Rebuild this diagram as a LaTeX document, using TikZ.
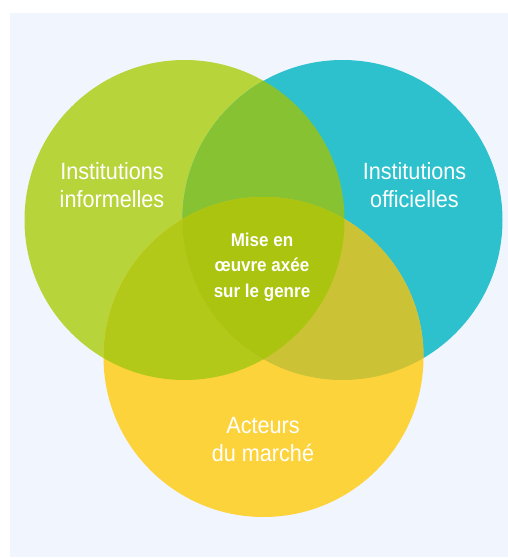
\documentclass[tikz,border=0pt]{standalone}
\usepackage{fontspec}
\setmainfont{Liberation Sans}
\definecolor{bgc}{HTML}{F1F5FD}
\definecolor{cgreen}{HTML}{B8D43B}
\definecolor{cteal}{HTML}{2CC1CD}
\definecolor{cyellow}{HTML}{FDD33C}
\definecolor{cgt}{HTML}{86C232}
\definecolor{cgy}{HTML}{B2C91A}
\definecolor{cty}{HTML}{CBC236}
\definecolor{call}{HTML}{ABC40F}
\tikzset{
  lbl/.style={text=white, align=center, font=\fontsize{23.5}{28}\selectfont, transform shape, xscale=0.92},
  clbl/.style={text=white, align=center, font=\fontsize{18.5}{25.5}\selectfont\bfseries, transform shape, xscale=0.92}
}
\begin{document}
\begin{tikzpicture}[x=1pt,y=-1pt]
\useasboundingbox (0,0) rectangle (508,558);
\fill[bgc] (10,13) rectangle (508,557);
\def\G{(184.5,220) circle (160)}
\def\T{(342.5,220) circle (160)}
\def\Y{(263.5,357) circle (160)}
\fill[cgreen] \G;
\fill[cteal] \T;
\fill[cyellow] \Y;
\begin{scope}\clip \G; \fill[cgt] \T; \end{scope}
\begin{scope}\clip \G; \fill[cgy] \Y; \end{scope}
\begin{scope}\clip \T; \fill[cty] \Y; \end{scope}
\begin{scope}\clip \G; \clip \T; \fill[call] \Y; \end{scope}
\node[lbl] (inf) at (112,185) {Institutions\\informelles};
\node[lbl] (off) at (414.5,185) {Institutions\\officielles};
\node[lbl] (act) at (263,440) {Acteurs\\du marché};
\node[clbl] (mid) at (262,267) {Mise en\\œuvre axée\\sur le genre};
\end{tikzpicture}
\end{document}
